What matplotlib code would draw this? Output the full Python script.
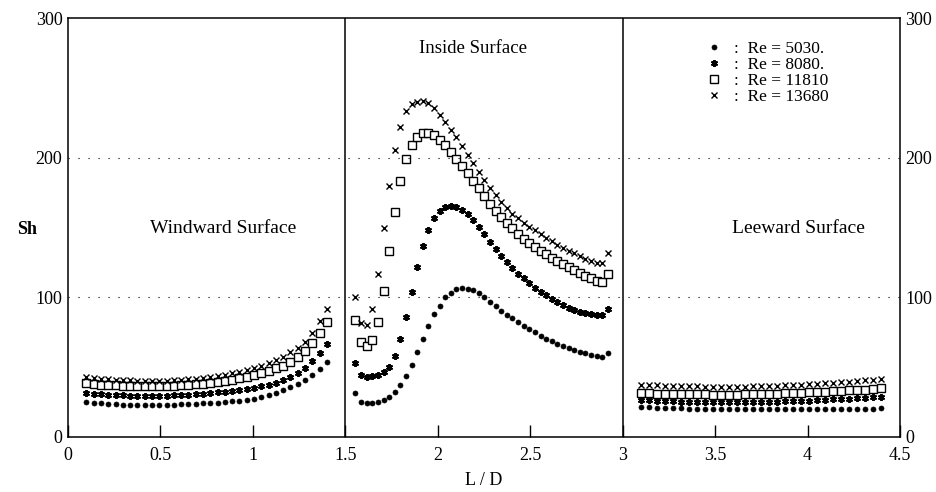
import numpy as np
import matplotlib
matplotlib.use("Agg")
import matplotlib.pyplot as plt

plt.rcParams["font.family"] = ["Liberation Serif", "DejaVu Serif"]

# L/D sampling positions on each surface
x_wind = np.linspace(0.10, 1.40, 34)
x_inside = np.linspace(1.555, 2.92, 46)
x_lee = np.linspace(3.10, 4.40, 31)

# Windward surface, Sh
wind_5030 = [25, 24.5, 24, 23.7, 23.5, 23.2, 23, 23, 23, 23, 23, 23, 23.2, 23.4, 23.6, 23.8, 24,
             24.3, 24.6, 25, 25.5, 26, 26.7, 27.5, 28.5, 29.8, 31.5, 33.5, 35.5, 37.8, 40.5, 44.5, 49, 54]
wind_8080 = [31.5, 31, 30.5, 30.2, 30, 29.8, 29.6, 29.5, 29.5, 29.5, 29.5, 29.6, 29.8, 30, 30.3, 30.6, 31,
             31.4, 31.9, 32.4, 33, 33.6, 34.3, 35.2, 36.2, 37.4, 38.8, 40.8, 43.2, 46, 49.5, 54.5, 60, 66.4]
wind_11810 = [38.5, 38, 37.5, 37.2, 37, 36.8, 36.6, 36.5, 36.5, 36.5, 36.5, 36.6, 36.8, 37, 37.4, 37.8, 38.2,
              38.8, 39.5, 40.3, 41, 42, 43, 44.2, 45.6, 47, 49.2, 51, 53.9, 57.5, 61.5, 67.5, 74.7, 82]
wind_13680 = [43, 42.3, 41.8, 41.3, 41, 40.7, 40.5, 40.3, 40.2, 40.2, 40.2, 40.3, 40.5, 40.8, 41.2, 41.7, 42.3,
              43, 43.8, 44.7, 45.7, 46.8, 48, 49.4, 51, 52.8, 55, 57.5, 60.5, 64, 68, 74.5, 83, 91.5]

# Inside surface, Sh
in_5030 = [31.3, 24.8, 24.6, 24.6, 24.8, 26.5, 28.9, 32.4, 37.2, 43.9, 51.5, 60.6, 70.2, 79.5, 87.9, 94,
           100, 103.3, 105.7, 106.5, 106.3, 105, 103, 100.5, 97, 94, 90.5, 87.5, 85, 82, 79.5, 77.5,
           75, 72.5, 70.5, 68.5, 66.5, 65, 63.5, 62.5, 61, 60, 59, 58.2, 57.5, 60]
in_8080 = [52.7, 44.4, 43.2, 43.7, 44.4, 46.7, 50.3, 58, 70, 86, 104, 122, 137, 148, 156.5, 162,
           164.8, 165.6, 164.8, 162.5, 159.5, 155.5, 150.5, 145, 139.5, 134.5, 129.5, 125, 121, 117, 113.5, 110,
           107, 104, 101.5, 99, 96.5, 94.5, 92.5, 91, 89.7, 88.5, 87.8, 87.3, 87.3, 92]
in_11810 = [83.8, 68.2, 65.1, 69.4, 82.5, 104.7, 133, 160.8, 183.5, 199, 209, 214.5, 217.8, 217.8, 216.2, 212.6,
            209, 204, 199, 194, 189, 183.5, 178, 172.5, 167, 162, 157.5, 153.5, 149.5, 145.5, 142, 139,
            136, 133.5, 131, 128.5, 126, 124, 122, 119.5, 117.5, 115.5, 113.5, 112, 111.2, 116.7]
in_13680 = [100, 81.4, 80.2, 91.6, 116.7, 149.4, 180, 205.4, 222, 233.4, 238.2, 240, 240.7, 238.9, 235.3, 230.5,
            225.7, 219.8, 214.5, 208.3, 202, 196.5, 190, 184, 178.5, 173, 168, 164, 160, 156.5, 153, 150.5,
            148, 145.5, 142.5, 140, 137.5, 135.5, 133.5, 131.5, 129.5, 127.5, 126, 124.5, 124.3, 131.5]

# Leeward surface, Sh
lee_5030 = [21.5, 21.2, 21, 20.8, 20.6, 20.5, 20.4, 20.3, 20.2, 20.2, 20.1, 20.1, 20, 20, 20, 20,
            20, 20, 20, 20, 20, 20, 20, 20, 20, 20.1, 20.1, 20.2, 20.3, 20.4, 20.5]
lee_8080 = [26.5, 26.2, 26, 25.8, 25.6, 25.4, 25.2, 25.1, 25, 24.9, 24.8, 24.8, 24.8, 24.8, 24.9, 25,
            25.1, 25.3, 25.5, 25.7, 25.9, 26.1, 26.3, 26.6, 26.9, 27.2, 27.5, 27.8, 28.1, 28.4, 28.8]
lee_11810 = [31.5, 31.3, 31.1, 30.9, 30.8, 30.7, 30.6, 30.5, 30.5, 30.4, 30.4, 30.4, 30.4, 30.5, 30.6, 30.7,
             30.8, 31, 31.2, 31.4, 31.6, 31.9, 32.2, 32.5, 32.8, 33.1, 33.4, 33.7, 34, 34.4, 34.8]
lee_13680 = [37.5, 37.2, 37, 36.8, 36.6, 36.4, 36.3, 36.2, 36.1, 36, 36, 36, 36, 36.1, 36.2, 36.3,
             36.5, 36.7, 36.9, 37.2, 37.5, 37.8, 38.1, 38.5, 38.9, 39.3, 39.7, 40.1, 40.5, 40.9, 41.3]

labels = [":  Re = 5030.", ":  Re = 8080.", ":  Re = 11810", ":  Re = 13680"]
styles = [
    dict(marker="o", ms=3.6, mfc="black", mec="black", mew=0.5),
    dict(marker=(6, 2, 0), ms=5, mfc="black", mec="black", mew=1.4),
    dict(marker="s", ms=5.2, mfc="white", mec="black", mew=1.0),
    dict(marker="x", ms=5, mfc="none", mec="black", mew=1.0),
]

wind = [wind_5030, wind_8080, wind_11810, wind_13680]
inside = [in_5030, in_8080, in_11810, in_13680]
lee = [lee_5030, lee_8080, lee_11810, lee_13680]

fig = plt.figure(figsize=(9.36, 4.92), dpi=100)
ax = fig.add_axes([0.0726, 0.1118, 0.8889, 0.8516])

for i in range(4):
    ax.plot(x_wind, wind[i], ls="none", label=labels[i], **styles[i])
    ax.plot(x_inside, inside[i], ls="none", **styles[i])
    ax.plot(x_lee, lee[i], ls="none", **styles[i])

ax.set_xlim(0, 4.5)
ax.set_ylim(0, 300)
ax.axvline(1.5, color="black", lw=1.1)
ax.axvline(3.0, color="black", lw=1.1)
for yv in [100, 200]:
    ax.axhline(yv, color="black", lw=0.8, ls=(0, (1, 8)))

ax.set_xticks([0, 0.5, 1, 1.5, 2, 2.5, 3, 3.5, 4, 4.5])
ax.set_xticklabels(["0", "0.5", "1", "1.5", "2", "2.5", "3", "3.5", "4", "4.5"])
ax.set_yticks([0, 100, 200, 300])
ax.tick_params(axis="x", direction="in", length=9, width=1, labelsize=13, pad=7)
ax.tick_params(axis="y", length=0, labelsize=13, pad=4, left=True, right=True,
               labelleft=True, labelright=True)
for s in ax.spines.values():
    s.set_linewidth(1.1)

ax.set_xlabel("L / D", fontsize=13, labelpad=6)
ax.set_ylabel("Sh", fontsize=13, rotation=0, fontweight="bold", va="center")
ax.yaxis.set_label_coords(-0.049, 0.496)

ax.text(0.84, 149, "Windward Surface", fontsize=14, ha="center", va="center")
ax.text(2.19, 278, "Inside Surface", fontsize=13.5, ha="center", va="center")
ax.text(3.95, 149, "Leeward Surface", fontsize=14, ha="center", va="center")

ax.legend(loc="upper left", bbox_to_anchor=(0.752, 0.975), frameon=False, fontsize=12.5,
          handlelength=1.0, handletextpad=0.6, labelspacing=0.0, borderpad=0.2)

fig.savefig("out.png", dpi=100)
